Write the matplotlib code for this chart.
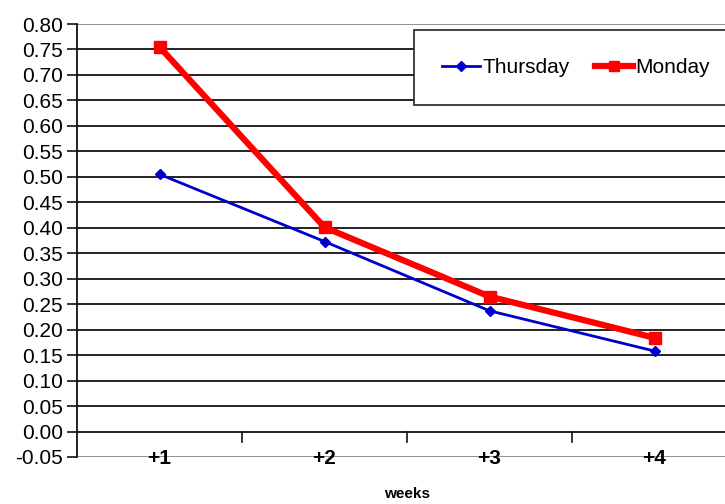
import matplotlib
matplotlib.use("Agg")
import matplotlib.pyplot as plt
import numpy as np

# data
weeks = ["+1", "+2", "+3", "+4"]
thursday = [0.505, 0.373, 0.237, 0.158]
monday = [0.755, 0.401, 0.265, 0.184]
y_ticks = [round(-0.05 + 0.05 * i, 2) for i in range(18)]

plt.rcParams["font.family"] = ["Liberation Sans", "DejaVu Sans"]

fig = plt.figure(figsize=(7.25, 5.04), dpi=100)
# axes spans past the right edge of the picture, like the cropped original
ax = fig.add_axes([77 / 725, 1 - 457 / 504, 660 / 725, 433 / 504])

x = np.arange(1, len(weeks) + 1)
ax.set_xlim(0.5, 4.5)
ax.set_ylim(-0.05, 0.80)

# horizontal grid
for v in y_ticks:
    col = "#888888" if v in (-0.05, 0.8) else "#111111"
    ax.axhline(v, color=col, lw=1.3, zorder=1)

ax.plot(x, thursday, color="#0000cc", lw=2, marker="D", ms=5.5,
        label="Thursday", zorder=3)
ax.plot(x, monday, color="#ff0000", lw=4.5, marker="s", ms=8.5,
        label="Monday", zorder=4)

ax.set_yticks(y_ticks)
ax.set_yticklabels([f"{v:.2f}" for v in y_ticks], fontsize=15)
ax.tick_params(axis="y", length=7, width=1.2, color="#111111", pad=3)

# category axis crosses at 0: ticks between categories
ax.set_xticks([])
for b in [1.5, 2.5, 3.5]:
    ax.plot([b, b], [0, -0.02], color="#111111", lw=1.2, clip_on=False, zorder=2)
for xi, lab in zip(x, weeks):
    ax.text(xi, -0.052, lab, ha="center", va="center", fontsize=15,
            fontweight="bold", zorder=5)

for s in ["top", "right", "bottom"]:
    ax.spines[s].set_visible(False)
ax.spines["left"].set_color("#111111")
ax.spines["left"].set_linewidth(1.3)

fig.text(407 / 725, 1 - 494 / 504, "weeks", ha="center", va="center",
         fontsize=11, fontweight="bold")

leg = ax.legend(loc="upper left", bbox_to_anchor=((414 - 77) / 660, (457 - 30) / 433),
                ncol=2, frameon=True, fancybox=False, fontsize=15,
                handlelength=1.8, handletextpad=0.15, columnspacing=1.2,
                borderpad=1.35, borderaxespad=0, markerscale=0.9)
leg.get_frame().set_edgecolor("#222222")
leg.get_frame().set_linewidth(1.2)
leg.get_frame().set_alpha(1)
leg.set_zorder(10)

fig.savefig("out.png", dpi=100)
